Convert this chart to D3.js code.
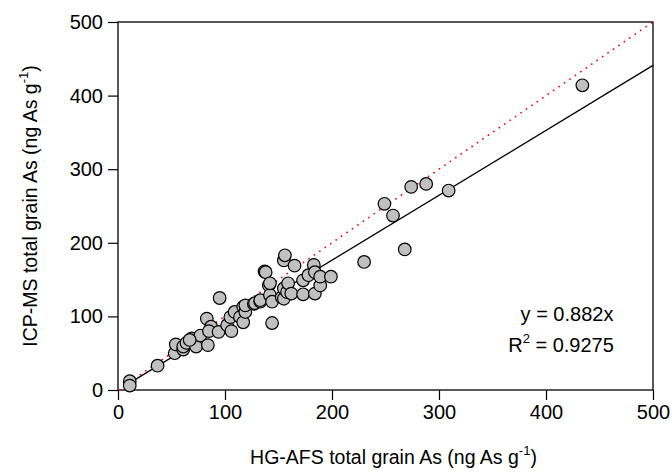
<!DOCTYPE html>
<html>
<head>
<meta charset="utf-8">
<script src="https://cdn.jsdelivr.net/npm/d3@7"></script>
<style>
  html, body { margin: 0; padding: 0; background: #fff; }
  svg { display: block; font-family: "Liberation Sans", Arial, sans-serif; }
</style>
</head>
<body>
<svg id="chart" width="672" height="474"></svg>
<script>
// HG-AFS (x) vs ICP-MS (y) total grain As, ng As g-1
const hgAfs = [11, 11, 37, 53, 54, 61, 61, 64, 69, 73, 77, 67, 83, 84, 87, 85, 94, 95,
  102, 105, 106, 109, 114, 117, 117, 119, 119, 127, 128, 133, 133, 137, 138, 141, 142,
  142, 144, 144, 153, 155, 155, 155, 156, 158, 159, 162, 165, 173, 173, 178, 183, 184,
  184, 189, 189, 199, 230, 249, 257, 268, 274, 288, 309, 434];
const icpMs = [12, 6, 33, 50, 62, 55, 59, 64, 70, 59, 74, 68, 97, 61, 86, 80, 79, 125,
  88, 99, 80, 106, 99, 92, 113, 106, 115, 117, 118, 120, 122, 161, 160, 142, 129,
  145, 91, 120, 126, 124, 138, 176, 183, 133, 145, 131, 169, 130, 149, 156, 170, 131,
  160, 142, 154, 154, 174, 253, 237, 191, 276, 280, 271, 414];
const slope = 0.882;
const xTicks = [0, 100, 200, 300, 400, 500];
const yTicks = [0, 100, 200, 300, 400, 500];

const points = hgAfs.map((x, i) => ({ x, y: icpMs[i] }));

const svg = d3.select("#chart");
const margin = { top: 22, right: 19, bottom: 84, left: 118 };
const W = +svg.attr("width"), H = +svg.attr("height");
const width = W - margin.left - margin.right;
const height = H - margin.top - margin.bottom;
const g = svg.append("g").attr("transform", `translate(${margin.left},${margin.top})`);

const x = d3.scaleLinear().domain([0, 500]).range([0, width]);
const y = d3.scaleLinear().domain([0, 500]).range([height, 0]);

// axes
const xAxis = g.append("g")
  .attr("transform", `translate(0,${height})`)
  .call(d3.axisBottom(x).tickValues(xTicks).tickSize(10).tickPadding(5).tickFormat(d3.format("d")));
const yAxis = g.append("g")
  .call(d3.axisLeft(y).tickValues(yTicks).tickSize(10).tickPadding(5).tickFormat(d3.format("d")));
[xAxis, yAxis].forEach(a => {
  a.select(".domain").remove();
  a.selectAll("line").attr("stroke", "#000").attr("stroke-width", 1.2);
  a.selectAll("text").attr("font-size", 20).attr("fill", "#000")
    .attr("font-family", "Liberation Sans, Arial, sans-serif");
});

// frame
g.append("rect")
  .attr("width", width).attr("height", height)
  .attr("fill", "none").attr("stroke", "#000").attr("stroke-width", 1.3);

// 1:1 line
g.append("line")
  .attr("x1", x(0)).attr("y1", y(0)).attr("x2", x(500)).attr("y2", y(500))
  .attr("stroke", "#ff0000").attr("stroke-width", 1.6)
  .attr("stroke-dasharray", "1.6,5");

// regression line y = 0.882x
const xMin = d3.min(hgAfs);
g.append("line")
  .attr("x1", x(xMin)).attr("y1", y(slope * xMin))
  .attr("x2", x(500)).attr("y2", y(slope * 500))
  .attr("stroke", "#000").attr("stroke-width", 1.3);

// points
g.append("g").selectAll("circle")
  .data(points)
  .join("circle")
  .attr("cx", d => x(d.x))
  .attr("cy", d => y(d.y))
  .attr("r", 6.3)
  .attr("fill", "#c0c0c0")
  .attr("stroke", "#000")
  .attr("stroke-width", 1.2);

// equation
g.append("text")
  .attr("x", 449).attr("y", 299)
  .attr("text-anchor", "middle").attr("font-size", 20)
  .text(`y = ${slope}x`);
const r2 = g.append("text")
  .attr("x", 443).attr("y", 330)
  .attr("text-anchor", "middle").attr("font-size", 20);
r2.append("tspan").text("R");
r2.append("tspan").attr("dy", -9).attr("font-size", 13).text("2");
r2.append("tspan").attr("dy", 9).text(" = 0.9275");

// axis titles
const xt = svg.append("text")
  .attr("x", margin.left + width / 2 + 8).attr("y", H - 10)
  .attr("text-anchor", "middle").attr("font-size", 19.5);
xt.append("tspan").text("HG-AFS total grain As (ng As g");
xt.append("tspan").attr("dy", -9).attr("font-size", 13).text("-1");
xt.append("tspan").attr("dy", 9).text(")");

const yt = svg.append("text")
  .attr("transform", `translate(37,${margin.top + height / 2}) rotate(-90)`)
  .attr("text-anchor", "middle").attr("font-size", 19.5);
yt.append("tspan").text("ICP-MS total grain As (ng As g");
yt.append("tspan").attr("dy", -9).attr("font-size", 13).text("-1");
yt.append("tspan").attr("dy", 9).text(")");
</script>
</body>
</html>
